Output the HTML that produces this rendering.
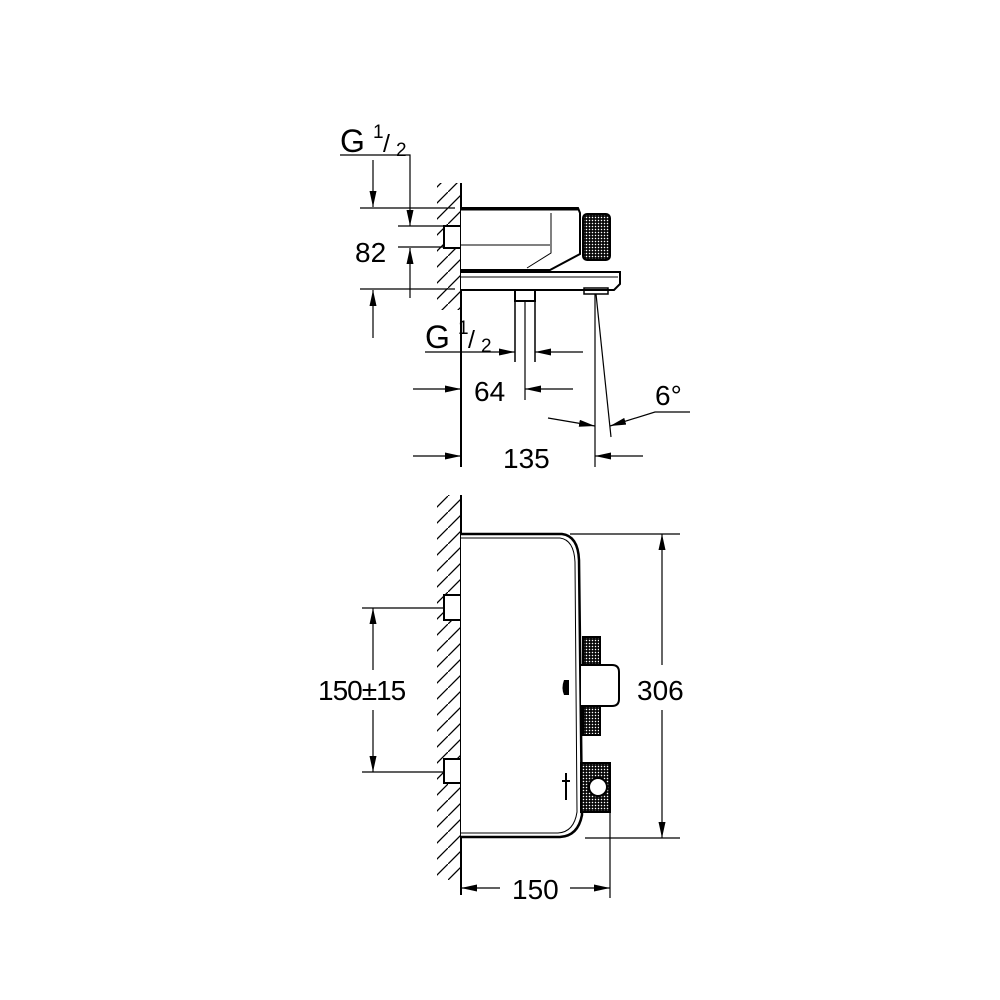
<!DOCTYPE html>
<html><head><style>html,body{margin:0;padding:0;background:#fff}svg{display:block}text{font-family:"Liberation Sans",Arial,sans-serif;fill:#000;stroke:none}</style></head>
<body>
<svg width="1000" height="1000" viewBox="0 0 1000 1000" xmlns="http://www.w3.org/2000/svg">
<defs>
<pattern id="h" width="16" height="16" patternUnits="userSpaceOnUse"><path d="M-2,18 L18,-2" stroke="#000" stroke-width="1.3"/></pattern>
<pattern id="k" width="3" height="3" patternUnits="userSpaceOnUse"><rect width="3" height="3" fill="#000"/><rect x="0.8" y="0.8" width="1.4" height="1.4" fill="#fff"/></pattern>
<marker id="a" viewBox="0 0 16 7" refX="16" refY="3.5" markerWidth="16" markerHeight="7" markerUnits="userSpaceOnUse" orient="auto"><path d="M0,0 L16,3.5 L0,7 Z" fill="#000"/></marker>
</defs>
<g stroke="#000" fill="none" stroke-width="1.2">
<!-- TOP VIEW -->
<rect x="437" y="183" width="24" height="127" fill="url(#h)" stroke="none"/>
<line x1="461" y1="183" x2="461" y2="467" stroke-width="2"/>
<rect x="444" y="226" width="17" height="22" fill="#fff" stroke-width="2"/>
<path d="M461,208 H578 L580,213 V254 L550,270 H461" stroke-width="2" fill="#fff"/>
<line x1="461" y1="209" x2="578" y2="209" stroke-width="3"/>
<path d="M551,213 V253 L527,268" stroke-width="1"/>
<path d="M461,245 H550" stroke-width="1"/>
<rect x="583" y="214" width="27" height="46" rx="4" fill="url(#k)" stroke-width="2"/>
<path d="M461,272 H620 V284 L614,290 H461" stroke-width="2" fill="#fff"/>
<path d="M461,277 H618" stroke-width="1"/>
<rect x="515" y="290" width="20" height="11" stroke-width="2" fill="#fff"/>
<line x1="515" y1="301" x2="515" y2="362" stroke-width="1.5"/>
<line x1="535" y1="301" x2="535" y2="362" stroke-width="1.5"/>
<line x1="525" y1="301" x2="525" y2="400"/>
<rect x="584" y="288" width="24" height="6" stroke-width="1.5"/>
<line x1="595" y1="294" x2="595" y2="467"/>
<line x1="596" y1="294" x2="611" y2="437"/>
<!-- G1/2 top -->
<text x="340" y="152" font-size="32">G</text><text x="373" y="138" font-size="19">1</text><text x="383" y="152" font-size="25">/</text><text x="396" y="156" font-size="19">2</text>
<polyline points="340,155 410,155 410,226" marker-end="url(#a)"/>
<line x1="373" y1="160" x2="373" y2="207" marker-end="url(#a)"/>
<line x1="360" y1="208" x2="455" y2="208"/>
<line x1="398" y1="226" x2="443" y2="226"/>
<line x1="398" y1="247" x2="443" y2="247"/>
<line x1="360" y1="289" x2="455" y2="289"/>
<text x="355" y="262" font-size="28">82</text>
<line x1="410" y1="298" x2="410" y2="248" marker-end="url(#a)"/>
<line x1="373" y1="338" x2="373" y2="290" marker-end="url(#a)"/>
<!-- G1/2 lower -->
<text x="425" y="348" font-size="32">G</text><text x="458" y="334" font-size="19">1</text><text x="468" y="348" font-size="25">/</text><text x="481" y="352" font-size="19">2</text>
<line x1="425" y1="352" x2="515" y2="352" marker-end="url(#a)"/>
<line x1="583" y1="352" x2="535" y2="352" marker-end="url(#a)"/>
<text x="474" y="401" font-size="28">64</text>
<line x1="413" y1="389" x2="461" y2="389" marker-end="url(#a)"/>
<line x1="573" y1="389" x2="525" y2="389" marker-end="url(#a)"/>
<text x="503" y="468" font-size="28">135</text>
<line x1="413" y1="456" x2="461" y2="456" marker-end="url(#a)"/>
<line x1="643" y1="456" x2="595" y2="456" marker-end="url(#a)"/>
<path d="M548,418 Q572,422 595,426" marker-end="url(#a)"/>
<polyline points="690,412 655,412 610,426" marker-end="url(#a)"/>
<text x="655" y="405" font-size="28">6°</text>

<!-- BOTTOM VIEW -->
<rect x="437" y="495" width="24" height="385" fill="url(#h)" stroke="none"/>
<line x1="461" y1="495" x2="461" y2="895" stroke-width="2"/>
<rect x="444" y="595" width="17" height="25" fill="#fff" stroke-width="2"/>
<rect x="444" y="759" width="17" height="24" fill="#fff" stroke-width="2"/>
<path d="M461,534 H562 Q578,536 579,560 L582,815 Q578,836 560,837 H461" stroke-width="2.5" fill="#fff"/>
<path d="M461,538 H560 Q574,540 575,562 L577,812 Q574,832 558,833 H461" stroke-width="1"/>
<rect x="583" y="637" width="17" height="28" fill="url(#k)" stroke-width="2"/>
<rect x="583" y="704" width="17" height="31" fill="url(#k)" stroke-width="2"/>
<path d="M581,665 H612 Q619,665 619,672 V699 Q619,706 612,706 H581" stroke-width="2" fill="#fff"/>
<path d="M564,680 H569 V695 H564 Q561,688 564,680 Z" fill="#000" stroke="none"/>
<line x1="566" y1="773" x2="566" y2="800" stroke-width="2"/>
<path d="M562,781 H570" stroke-width="2"/>
<rect x="581" y="763" width="29" height="49" fill="url(#k)" stroke-width="2"/>
<circle cx="598" cy="787" r="9" fill="#fff" stroke-width="2"/>
<line x1="610" y1="812" x2="610" y2="898"/>
<line x1="362" y1="608" x2="444" y2="608"/>
<line x1="362" y1="772" x2="444" y2="772"/>
<line x1="373" y1="670" x2="373" y2="608" marker-end="url(#a)"/>
<line x1="373" y1="710" x2="373" y2="772" marker-end="url(#a)"/>
<text x="318" y="700" font-size="28" letter-spacing="-1">150±15</text>
<line x1="570" y1="534" x2="680" y2="534"/>
<line x1="585" y1="838" x2="680" y2="838"/>
<line x1="662" y1="665" x2="662" y2="534" marker-end="url(#a)"/>
<line x1="662" y1="710" x2="662" y2="838" marker-end="url(#a)"/>
<text x="637" y="700" font-size="28">306</text>
<line x1="500" y1="888" x2="461" y2="888" marker-end="url(#a)"/>
<line x1="570" y1="888" x2="610" y2="888" marker-end="url(#a)"/>
<text x="512" y="899" font-size="28">150</text>
</g>
</svg>
</body></html>
